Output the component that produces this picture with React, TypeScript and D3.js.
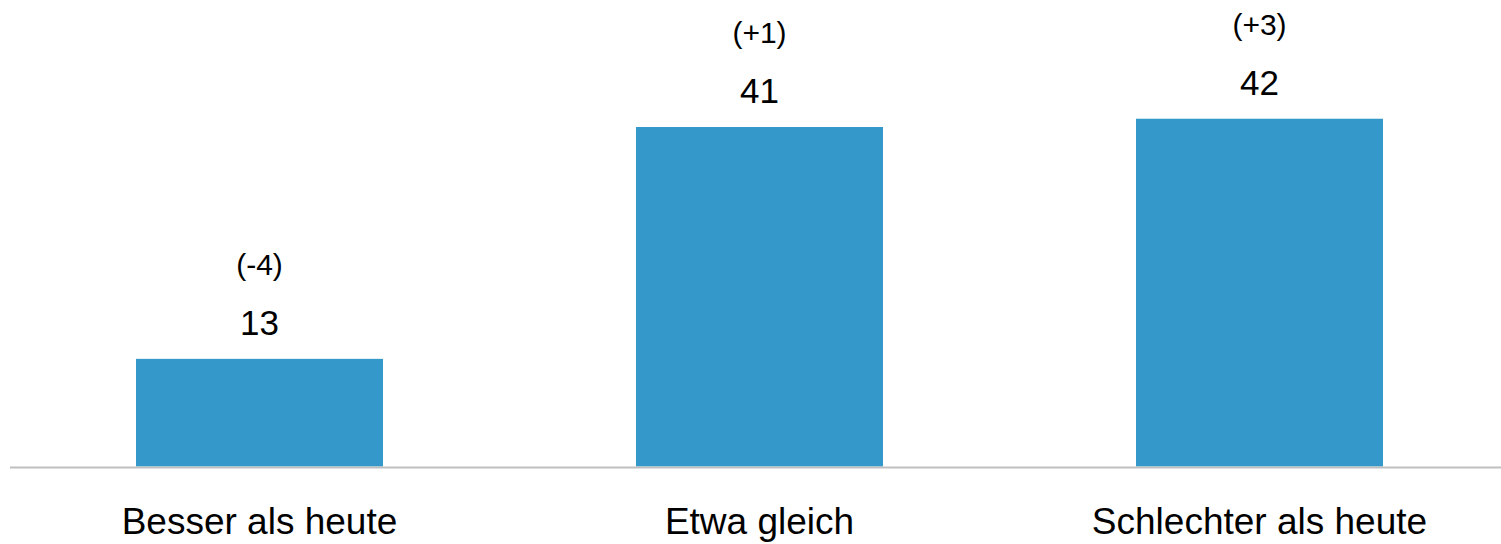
import React from "react";
import * as d3 from "d3";

const categories = ["Besser als heute", "Etwa gleich", "Schlechter als heute"];
const values = [13, 41, 42];
const changes = ["(-4)", "(+1)", "(+3)"];

const W = 1501;
const H = 544;
const FONT = "'Liberation Sans', Arial, Helvetica, sans-serif";

export default function App() {
  const x = d3
    .scaleBand<string>()
    .domain(categories)
    .range([9.5, 1509.5])
    .paddingInner(0.506)
    .paddingOuter(0.253);
  const y = d3.scaleLinear().domain([0, 50]).range([466.5, 52.5]);

  return (
    <svg
      width={W}
      height={H}
      style={{ position: "absolute", left: 0, top: 0, background: "#fff" }}
      fontFamily={FONT}
    >
      {categories.map((c, i) => {
        const bx = x(c)!;
        const bw = x.bandwidth();
        const top = y(values[i]);
        const cx = bx + bw / 2;
        return (
          <g key={c}>
            <rect x={bx} y={top} width={bw} height={y(0) - top} fill="#3498cb" />
            <text x={cx} y={top - 24} textAnchor="middle" fontSize={35} fill="#000">
              {values[i]}
            </text>
            <text x={cx} y={top - 84} textAnchor="middle" fontSize={30} fill="#000">
              {changes[i]}
            </text>
            <text x={cx} y={534} textAnchor="middle" fontSize={37} fill="#000">
              {c}
            </text>
          </g>
        );
      })}
      <line x1={10} x2={W} y1={467.5} y2={467.5} stroke="#bfbfbf" strokeWidth={2} />
    </svg>
  );
}
